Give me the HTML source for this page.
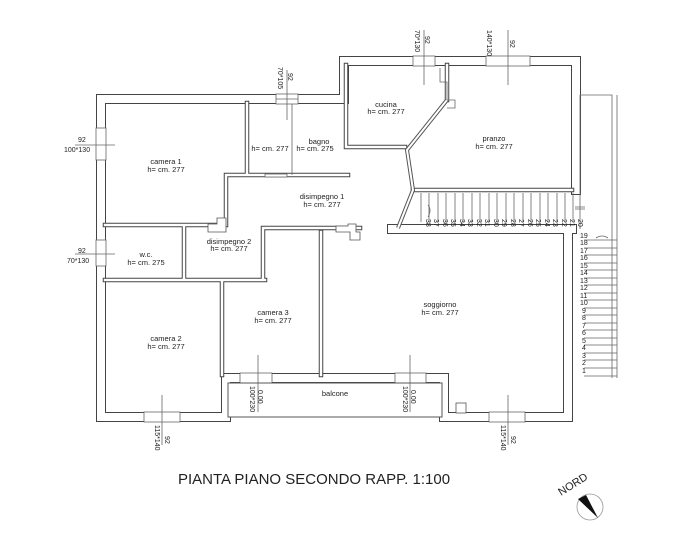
<!DOCTYPE html>
<html><head><meta charset="utf-8"><style>
html,body{margin:0;padding:0;background:#fff;}
svg{display:block;font-family:"Liberation Sans",sans-serif;}
.t{font-size:7.5px;fill:#222;text-anchor:middle;}
.d{font-size:7px;fill:#222;}
.w1{fill:none;stroke:#444;stroke-width:10;stroke-linejoin:miter;stroke-linecap:square}
.w2{fill:none;stroke:#fff;stroke-width:8;stroke-linejoin:miter;stroke-linecap:square}
.i1{fill:none;stroke:#444;stroke-width:4.5;stroke-linecap:square}
.i2{fill:none;stroke:#fff;stroke-width:2.5;stroke-linecap:square}
.thin{stroke:#666;stroke-width:0.8;fill:none}
</style></head><body>
<svg width="678" height="538" viewBox="0 0 678 538" xmlns="http://www.w3.org/2000/svg">
<defs>
<path id="outer" d="M101,99 H344 V61 H576 V190 M568,229 V417 H444 V378 H226 V417 H101 V99 M392,229 H572"/>
<path id="inner" d="M247,103 V175 M228,175 H348 M346,65 V147 H405 M226,175 V225 M105,225 H226 M184,225 V279 M105,280 H265 M263,228 V279 M263,228 H360 M222,280 V375 M321,232 V375 M413,190 H572 M447,65 V100"/>
</defs>
<use href="#outer" class="w1"/><use href="#outer" class="w2"/>
<use href="#inner" class="i1"/><use href="#inner" class="i2"/>
<!-- diagonal walls -->
<path d="M447,100 L407,150 L413,190 L398,228" fill="none" stroke="#555" stroke-width="4"/>
<path d="M447,100 L407,150 L413,190 L398,228" fill="none" stroke="#fff" stroke-width="2"/>
<!-- jogs -->
<path d="M440,68 V82 H447 V100 H455 V108 H447" class="thin"/>
<path d="M208,224 H217 V218 H226 V232 H208 Z" fill="#fff" stroke="#555" stroke-width="0.8"/>
<path d="M336,226 H348 V224 H356 V232 H360 V240 H350 V232 H336 Z" fill="#fff" stroke="#555" stroke-width="0.8"/>
<!-- windows (white gaps) -->
<g fill="#fff" stroke="#666" stroke-width="0.8">
<rect x="276" y="94" width="22" height="10"/>
<rect x="413" y="56" width="22" height="10"/>
<rect x="486" y="56" width="44" height="10"/>
<rect x="96" y="128" width="10" height="32"/>
<rect x="96" y="240" width="10" height="26"/>
<rect x="144" y="412" width="36" height="10"/>
<rect x="489" y="412" width="36" height="10"/>
<rect x="240" y="373" width="32" height="10"/>
<rect x="395" y="373" width="31" height="10"/>
<rect x="265" y="174" width="22" height="3"/>
</g>
<line x1="276" y1="99" x2="298" y2="99" class="thin"/>
<line x1="292" y1="104" x2="292" y2="175" class="thin"/>
<!-- balcony -->
<rect x="228" y="383" width="214" height="34" fill="#fff" stroke="#555" stroke-width="1"/>
<rect x="456" y="403" width="10" height="10" fill="#fff" stroke="#555" stroke-width="0.8"/>
<!-- dimension lines -->
<g class="thin">
<line x1="287" y1="70" x2="287" y2="120"/>
<line x1="424" y1="30" x2="424" y2="85"/>
<line x1="508" y1="30" x2="508" y2="85"/>
<line x1="75" y1="145" x2="115" y2="145"/>
<line x1="75" y1="254" x2="115" y2="254"/>
<line x1="162" y1="395" x2="162" y2="445"/>
<line x1="508" y1="395" x2="508" y2="445"/>
<line x1="258" y1="355" x2="258" y2="412"/>
<line x1="410" y1="355" x2="410" y2="412"/>
</g>
<!-- stairs top -->
<g class="thin">
<path d="M421,193 V222 M429,193 V222 M438,193 V222 M446,193 V222 M455,193 V222 M463,193 V222 M472,193 V222 M480,193 V222 M489,193 V222 M497,193 V222 M506,193 V222 M514,193 V222 M523,193 V222 M531,193 V222 M540,193 V222 M548,193 V222 M557,193 V222 M565,193 V222 M573,193 V222"/>
<path d="M580,95 H612 V378 M617,95 V378 M580,95 V229"/>
<path d="M584,240 H617 M584,248 H617 M584,255 H617 M584,263 H617 M584,270 H617 M584,278 H617 M584,285 H617 M584,293 H617 M584,300 H617 M584,308 H617 M584,315 H617 M584,323 H617 M584,330 H617 M584,338 H617 M584,345 H617 M584,353 H617 M584,360 H617 M584,368 H617 M584,376 H617"/>
<path d="M575,207 H585 M575,209 H585"/>
<path d="M428,205 q4,5 0,12"/>
<path d="M596,238 q6,-4 12,0"/>
</g>
<g class="d" font-size="7">
<text transform="translate(426,219) rotate(90)">38</text>
<text transform="translate(434,219) rotate(90)">37</text>
<text transform="translate(443,219) rotate(90)">36</text>
<text transform="translate(451,219) rotate(90)">35</text>
<text transform="translate(460,219) rotate(90)">34</text>
<text transform="translate(468,219) rotate(90)">33</text>
<text transform="translate(477,219) rotate(90)">32</text>
<text transform="translate(485,219) rotate(90)">31</text>
<text transform="translate(494,219) rotate(90)">30</text>
<text transform="translate(502,219) rotate(90)">29</text>
<text transform="translate(511,219) rotate(90)">28</text>
<text transform="translate(519,219) rotate(90)">27</text>
<text transform="translate(528,219) rotate(90)">26</text>
<text transform="translate(536,219) rotate(90)">25</text>
<text transform="translate(545,219) rotate(90)">24</text>
<text transform="translate(553,219) rotate(90)">23</text>
<text transform="translate(562,219) rotate(90)">22</text>
<text transform="translate(570,219) rotate(90)">21</text>
<text transform="translate(578,219) rotate(90)">20</text>
</g>
<g class="d" font-size="7.5">
<text x="580" y="238">19</text><text x="580" y="245">18</text><text x="580" y="253">17</text>
<text x="580" y="260">16</text><text x="580" y="268">15</text><text x="580" y="275">14</text>
<text x="580" y="283">13</text><text x="580" y="290">12</text><text x="580" y="298">11</text>
<text x="580" y="305">10</text><text x="582" y="313">9</text><text x="582" y="320">8</text>
<text x="582" y="328">7</text><text x="582" y="335">6</text><text x="582" y="343">5</text>
<text x="582" y="350">4</text><text x="582" y="358">3</text><text x="582" y="365">2</text>
<text x="582" y="373">1</text>
</g>
<!-- room labels -->
<g class="t">
<text x="166" y="164">camera 1</text><text x="166" y="172">h= cm. 277</text>
<text x="270" y="151">h= cm. 277</text>
<text x="319" y="144">bagno</text><text x="315" y="151">h= cm. 275</text>
<text x="386" y="107">cucina</text><text x="386" y="114">h= cm. 277</text>
<text x="494" y="141">pranzo</text><text x="494" y="149">h= cm. 277</text>
<text x="322" y="199">disimpegno 1</text><text x="322" y="207">h= cm. 277</text>
<text x="229" y="244">disimpegno 2</text><text x="229" y="251">h= cm. 277</text>
<text x="146" y="257">w.c.</text><text x="146" y="265">h= cm. 275</text>
<text x="166" y="341">camera 2</text><text x="166" y="349">h= cm. 277</text>
<text x="273" y="315">camera 3</text><text x="273" y="323">h= cm. 277</text>
<text x="440" y="307">soggiorno</text><text x="440" y="315">h= cm. 277</text>
<text x="335" y="396">balcone</text>
</g>
<!-- dimension labels -->
<g class="d">
<text transform="translate(278,67) rotate(90)">70*105</text>
<text transform="translate(288,73) rotate(90)">92</text>
<text transform="translate(415,30) rotate(90)">70*130</text>
<text transform="translate(425,36) rotate(90)">92</text>
<text transform="translate(487,30) rotate(90)">140*130</text>
<text transform="translate(510,40) rotate(90)">92</text>
<text x="78" y="142">92</text><text x="64" y="152">100*130</text>
<text x="78" y="253">92</text><text x="67" y="263">70*130</text>
<text transform="translate(155,425) rotate(90)">115*140</text>
<text transform="translate(165,436) rotate(90)">92</text>
<text transform="translate(501,425) rotate(90)">115*140</text>
<text transform="translate(511,436) rotate(90)">92</text>
<text transform="translate(250,386) rotate(90)">100*230</text>
<text transform="translate(258,390) rotate(90)">0.00</text>
<text transform="translate(403,386) rotate(90)">100*230</text>
<text transform="translate(411,390) rotate(90)">0.00</text>
</g>
<text x="178" y="484" font-size="15" fill="#222">PIANTA PIANO SECONDO RAPP. 1:100</text>
<!-- north -->
<text transform="translate(561,496) rotate(-32)" font-size="11" fill="#222">NORD</text>
<circle cx="590" cy="507" r="13" fill="#fff" stroke="#999" stroke-width="0.8"/>
<path d="M578,499 L586,495 L598,518 Z" fill="#111"/>
</svg>
</body></html>
